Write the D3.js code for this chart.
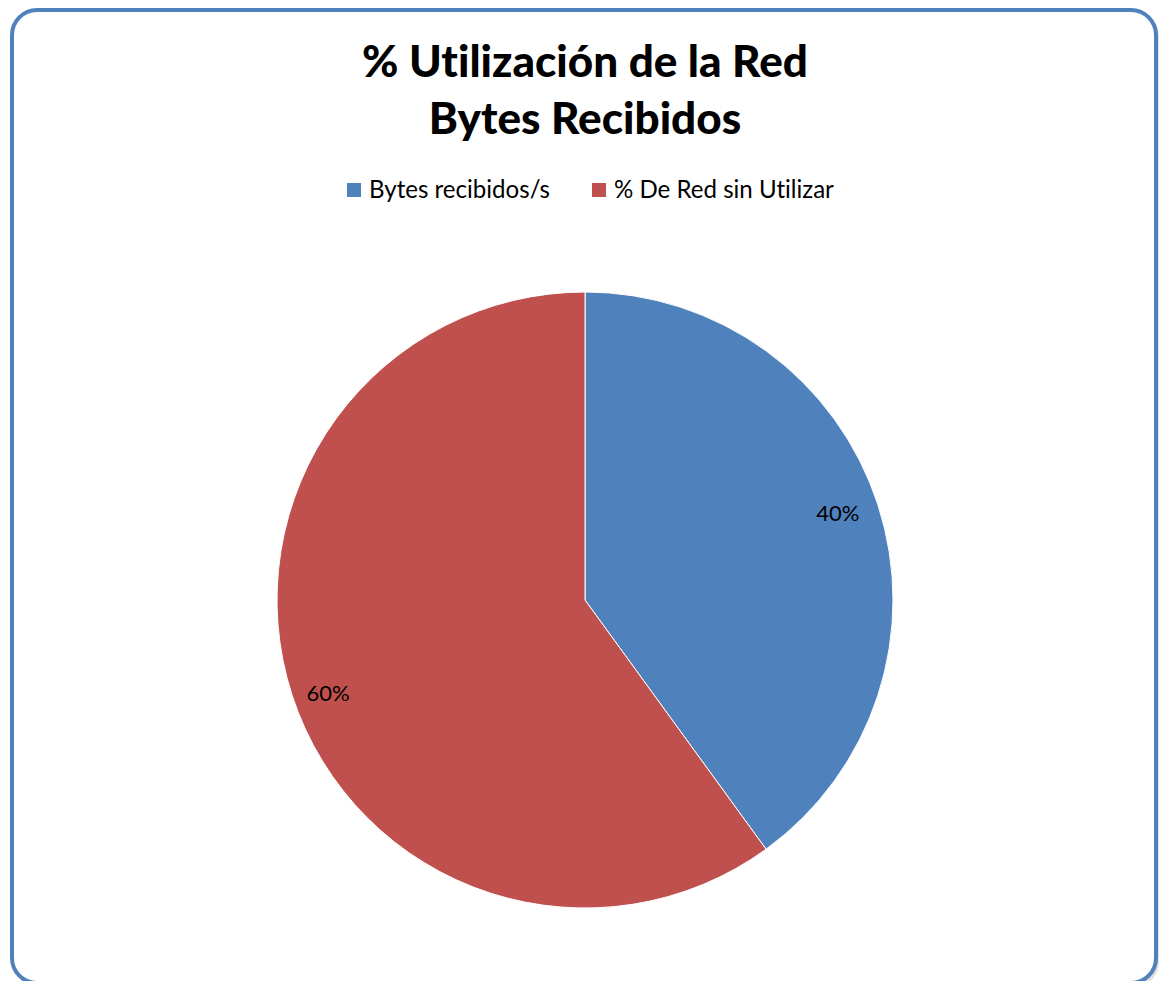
<!DOCTYPE html>
<html><head><meta charset="utf-8">
<script src="https://cdn.jsdelivr.net/npm/d3@7"></script>
<style>body{margin:0;background:#fff}svg{display:block}text{font-variant-ligatures:none;font-feature-settings:"liga" 0}</style>
</head><body>
<script>
const categories = ["Bytes recibidos/s", "% De Red sin Utilizar"];
const values = [40, 60];
const colors = ["#4f81bd", "#c0504d"];
const titleLines = ["% Utilización de la Red", "Bytes Recibidos"];

const W = 1160, H = 981;
const svg = d3.select("body").append("svg").attr("width", W).attr("height", H);
const font = "Lato, 'Open Sans', sans-serif";

svg.append("rect").attr("x", 14).attr("y", 12).attr("width", 1145).attr("height", 975)
  .attr("rx", 25).attr("fill", "#bfbfbf").attr("opacity", 0.5);
svg.append("rect").attr("x", 12).attr("y", 10).attr("width", 1144).attr("height", 973)
  .attr("rx", 25).attr("fill", "#fff").attr("stroke", "#4f81bd").attr("stroke-width", 4);

// title
const titleEls = titleLines.map((t, i) => svg.append("text").attr("x", 585).attr("y", 77 + i * 57)
    .attr("text-anchor", "middle").attr("font-family", font).attr("font-weight", "900")
    .attr("font-size", 40).attr("fill", "#000").text(t));
const tw = titleEls[0].node().getComputedTextLength();
titleEls.forEach(el => el.attr("font-size", 40 * 446 / tw));

// legend
const legX = [347, 592];
const legEls = categories.map((c, i) => {
  svg.append("rect").attr("x", legX[i]).attr("y", 183).attr("width", 14).attr("height", 14).attr("fill", colors[i]);
  return svg.append("text").attr("x", legX[i] + 22).attr("y", 198).attr("font-family", font)
    .attr("font-size", 21).attr("fill", "#000").text(c);
});
const lw = legEls[1].node().getComputedTextLength();
legEls.forEach(el => el.attr("font-size", 21 * 220 / lw));

// pie
const cx = 585, cy = 600, r = 308;
const pie = d3.pie().sort(null)(values);
const arc = d3.arc().innerRadius(0).outerRadius(r);
const g = svg.append("g").attr("transform", `translate(${cx},${cy})`);
g.selectAll("path").data(pie).join("path").attr("d", arc)
  .attr("fill", (d, i) => colors[i]).attr("stroke", "#fff").attr("stroke-width", 1);

const labelArc = d3.arc().innerRadius(r * 0.87).outerRadius(r * 0.87);
const labelDy = [-4, 10];
g.selectAll("text.lbl").data(pie).join("text").attr("class", "lbl")
  .attr("transform", (d, i) => {
    const p = labelArc.centroid(d);
    return `translate(${p[0] - 2},${p[1] + labelDy[i]})`;
  })
  .attr("text-anchor", "middle").attr("dy", "0.35em")
  .attr("font-family", font).attr("font-size", 22).attr("fill", "#000")
  .text(d => d.data + "%");
</script>
</body></html>
